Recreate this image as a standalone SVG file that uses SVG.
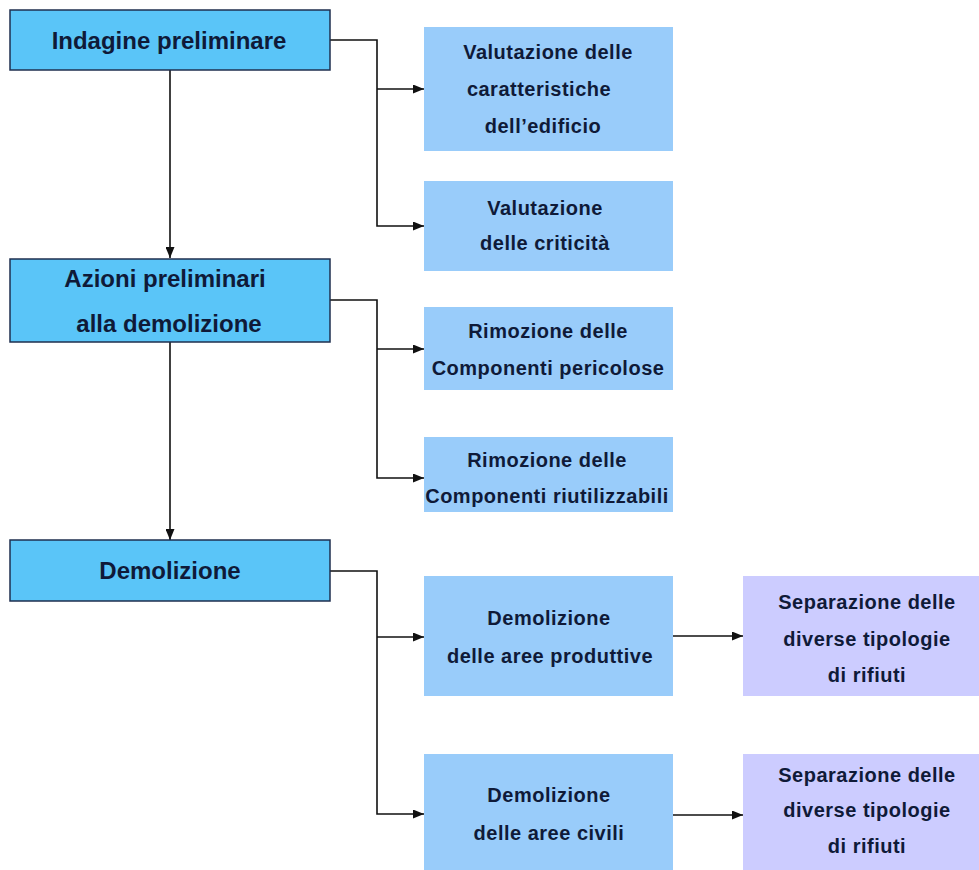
<svg xmlns="http://www.w3.org/2000/svg" width="979" height="870" viewBox="0 0 979 870">
<defs>
<marker id="ah" viewBox="0 0 11 9" refX="11" refY="4.5" markerWidth="11" markerHeight="9" markerUnits="userSpaceOnUse" orient="auto">
<path d="M0,0 L11,4.5 L0,9 Z" fill="#111"/>
</marker>
<style>
.main{fill:#5AC5F8;stroke:#1F2F4F;stroke-width:1.5}
.sub{fill:#99CCFA}
.sep{fill:#CCCCFF}
.tm{font-family:"Liberation Sans",Arial,sans-serif;font-weight:bold;font-size:24px;fill:#0F1A38;text-anchor:middle}
.ts{font-family:"Liberation Sans",Arial,sans-serif;font-weight:bold;font-size:20px;letter-spacing:0.5px;fill:#0F1A38;text-anchor:middle}
.c{fill:none;stroke:#111;stroke-width:1.6}
</style>
</defs>
<rect width="979" height="870" fill="#FFFFFF"/>
<g id="connectors">
<path class="c" d="M170,70 V258" marker-end="url(#ah)"/>
<path class="c" d="M170,342 V540" marker-end="url(#ah)"/>
<path class="c" d="M330,40 H377 V226 H424" marker-end="url(#ah)"/>
<path class="c" d="M377,89 H424" marker-end="url(#ah)"/>
<path class="c" d="M330,300 H377 V478 H424" marker-end="url(#ah)"/>
<path class="c" d="M377,349 H424" marker-end="url(#ah)"/>
<path class="c" d="M330,571 H377 V814 H424" marker-end="url(#ah)"/>
<path class="c" d="M377,637 H424" marker-end="url(#ah)"/>
<path class="c" d="M673,636 H743" marker-end="url(#ah)"/>
<path class="c" d="M673,815 H743" marker-end="url(#ah)"/>
</g>
<g id="n1">
<rect class="main" x="10" y="10" width="320" height="60"/>
<text class="tm" x="169" y="49">Indagine preliminare</text>
</g>
<g id="n2">
<rect class="main" x="10" y="259" width="320" height="83"/>
<text class="tm" x="165" y="287">Azioni preliminari</text>
<text class="tm" x="169" y="332">alla demolizione</text>
</g>
<g id="n3">
<rect class="main" x="10" y="540" width="320" height="61"/>
<text class="tm" x="170" y="579">Demolizione</text>
</g>
<g id="n4">
<rect class="sub" x="424" y="27" width="249" height="124"/>
<text class="ts" x="548" y="59">Valutazione delle</text>
<text class="ts" x="539" y="96">caratteristiche</text>
<text class="ts" x="543" y="133">dell’edificio</text>
</g>
<g id="n5">
<rect class="sub" x="424" y="181" width="249" height="90"/>
<text class="ts" x="545" y="215">Valutazione</text>
<text class="ts" x="545" y="250">delle criticità</text>
</g>
<g id="n6">
<rect class="sub" x="424" y="307" width="249" height="83"/>
<text class="ts" x="548" y="338">Rimozione delle</text>
<text class="ts" x="548" y="375">Componenti pericolose</text>
</g>
<g id="n7">
<rect class="sub" x="424" y="437" width="249" height="75"/>
<text class="ts" x="547" y="467">Rimozione delle</text>
<text class="ts" x="547" y="503">Componenti riutilizzabili</text>
</g>
<g id="n8">
<rect class="sub" x="424" y="576" width="249" height="120"/>
<text class="ts" x="549" y="625">Demolizione</text>
<text class="ts" x="550" y="663">delle aree produttive</text>
</g>
<g id="n9">
<rect class="sub" x="424" y="754" width="249" height="116"/>
<text class="ts" x="549" y="802">Demolizione</text>
<text class="ts" x="549" y="840">delle aree civili</text>
</g>
<g id="n10">
<rect class="sep" x="743" y="576" width="236" height="120"/>
<text class="ts" x="867" y="609">Separazione delle</text>
<text class="ts" x="867" y="646">diverse tipologie</text>
<text class="ts" x="867" y="682">di rifiuti</text>
</g>
<g id="n11">
<rect class="sep" x="743" y="754" width="236" height="116"/>
<text class="ts" x="867" y="782">Separazione delle</text>
<text class="ts" x="867" y="817">diverse tipologie</text>
<text class="ts" x="867" y="853">di rifiuti</text>
</g>
</svg>
